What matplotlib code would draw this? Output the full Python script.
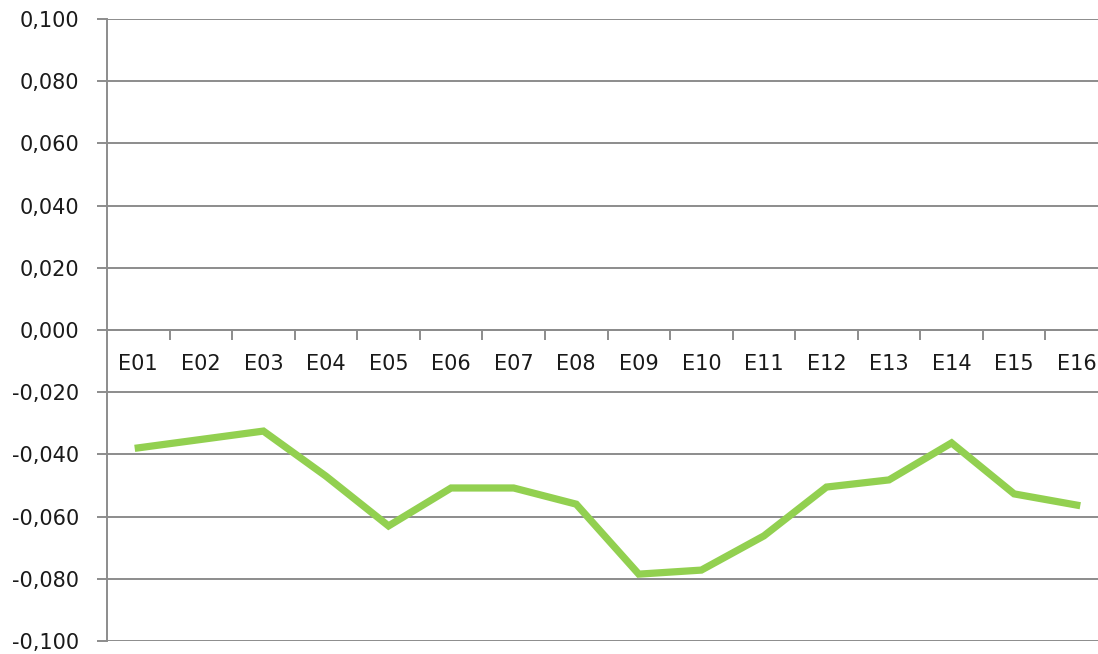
import numpy as np
import matplotlib
matplotlib.use("Agg")
import matplotlib.pyplot as plt
from matplotlib.ticker import FixedLocator, FuncFormatter

# series
categories = [f"E{i:02d}" for i in range(1, 17)]
values = [-0.0379, -0.0352, -0.0325, -0.0470, -0.0630, -0.0508, -0.0508, -0.0560,
          -0.0785, -0.0772, -0.0662, -0.0505, -0.0482, -0.0363, -0.0527, -0.0563]
y_ticks = [-0.1, -0.08, -0.06, -0.04, -0.02, 0.0, 0.02, 0.04, 0.06, 0.08, 0.1]

GRID = "#8c8c8c"
LINE = "#92d050"
TEXT = "#1a1a1a"

plt.rcParams["font.family"] = "DejaVu Sans"

fig = plt.figure(figsize=(10.98, 6.54), dpi=100)
ax = fig.add_axes([107 / 1098, 13 / 654, 1001 / 1098, 622 / 654])

x = np.arange(len(categories))
ax.plot(x, values, color=LINE, lw=5.2, solid_joinstyle="miter", zorder=3)

ax.set_xlim(-0.5, len(categories) - 0.5)
ax.set_ylim(-0.1, 0.1)

# y axis: comma decimals, outward ticks
ax.yaxis.set_major_locator(FixedLocator(y_ticks))
ax.yaxis.set_major_formatter(
    FuncFormatter(lambda v, _: f"{v:.3f}".replace(".", ",").replace("-0,000", "0,000")))
ax.tick_params(axis="y", direction="out", length=7, width=1.4, color=GRID,
               pad=13, labelsize=15, labelcolor=TEXT)
ax.yaxis.grid(True, color=GRID, lw=1.4)
ax.set_axisbelow(True)

# category axis sits on zero; marks between categories
for side in ("top", "right"):
    ax.spines[side].set_visible(False)
ax.spines["left"].set_color(GRID)
ax.spines["left"].set_linewidth(1.4)
ax.spines["bottom"].set_position(("data", 0))
ax.spines["bottom"].set_color(GRID)
ax.spines["bottom"].set_linewidth(1.4)

ax.set_xticks(x)
ax.set_xticklabels(categories)
ax.set_xticks(np.arange(0.5, len(categories) - 0.5), minor=True)
ax.tick_params(axis="x", which="major", length=0, pad=17, labelsize=15,
               labelcolor=TEXT)
ax.tick_params(axis="x", which="minor", direction="out", length=7, width=1.4,
               color=GRID)

fig.savefig("out.png", dpi=100)
